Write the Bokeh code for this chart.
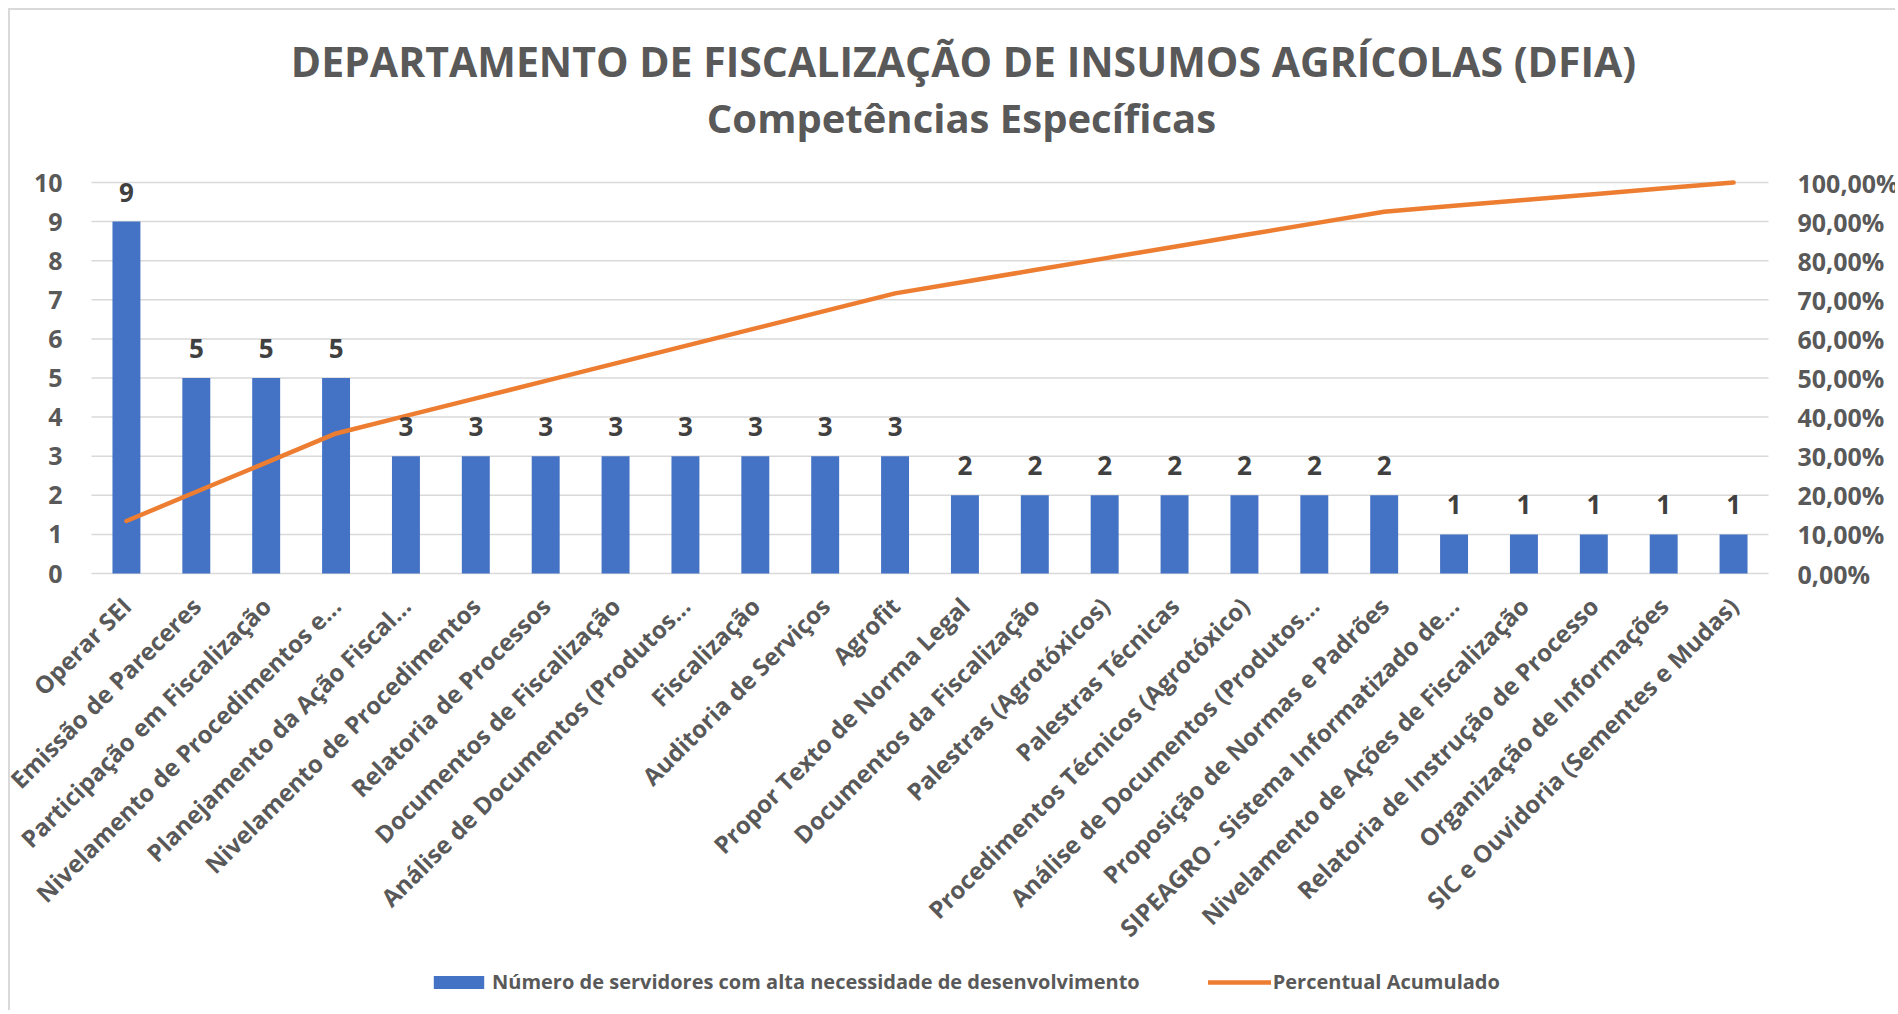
import math
from bokeh.plotting import figure
from bokeh.models import (ColumnDataSource, Range1d, LabelSet, Label, Legend, LegendItem)
from bokeh.core.properties import value
from bokeh.embed import file_html
from bokeh.resources import INLINE

# ---------------- data ----------------
categories = [
    "Operar SEI",
    "Emissão de Pareceres",
    "Participação em Fiscalização",
    "Nivelamento de Procedimentos e...",
    "Planejamento da Ação Fiscal...",
    "Nivelamento de Procedimentos",
    "Relatoria de Processos",
    "Documentos de Fiscalização",
    "Análise de Documentos (Produtos...",
    "Fiscalização",
    "Auditoria de Serviços",
    "Agrofit",
    "Propor Texto de Norma Legal",
    "Documentos da Fiscalização",
    "Palestras (Agrotóxicos)",
    "Palestras Técnicas",
    "Procedimentos Técnicos (Agrotóxico)",
    "Análise de Documentos (Produtos...",
    "Proposição de Normas e Padrões",
    "SIPEAGRO - Sistema Informatizado de...",
    "Nivelamento de Ações de Fiscalização",
    "Relatoria de Instrução de Processo",
    "Organização de Informações",
    "SIC e Ouvidoria (Sementes e Mudas)",
]
servidores = [9, 5, 5, 5, 3, 3, 3, 3, 3, 3, 3, 3, 2, 2, 2, 2, 2, 2, 2, 1, 1, 1, 1, 1]
percentual = [13.43, 20.90, 28.36, 35.82, 40.30, 44.78, 49.25, 53.73, 58.21, 62.69,
              67.16, 71.64, 74.63, 77.61, 80.60, 83.58, 86.57, 89.55, 92.54, 94.03,
              95.52, 97.01, 98.51, 100.00]
left_ticks = [0, 1, 2, 3, 4, 5, 6, 7, 8, 9, 10]
left_tick_labels = ["0", "1", "2", "3", "4", "5", "6", "7", "8", "9", "10"]
pct_ticks = [0, 10, 20, 30, 40, 50, 60, 70, 80, 90, 100]
pct_tick_labels = ["0,00%", "10,00%", "20,00%", "30,00%", "40,00%", "50,00%",
                   "60,00%", "70,00%", "80,00%", "90,00%", "100,00%"]
title_main = "DEPARTAMENTO DE FISCALIZAÇÃO DE INSUMOS AGRÍCOLAS (DFIA)"
title_sub = "Competências Específicas"
legend_bar = "Número de servidores com alta necessidade de desenvolvimento"
legend_line = "Percentual Acumulado"

# ---------------- style / layout ----------------
FONT = "Open Sans"
GRAY = "#595959"
DARK = "#404040"
GRID = "#d9d9d9"
BLUE = "#4472C4"
ORANGE = "#ED7D31"

W, H = 1887, 1002                 # canvas size
PL, PT, PW, PH = 81, 172, 1677, 391  # plot area (left, top, width, height) in px

n_cat = len(categories)
ymax, pmax = left_ticks[-1], pct_ticks[-1]
ppx = PW / n_cat                  # px per category
ppy = PH / ymax                   # px per unit (left scale)
x0 = -0.5 - PL / ppx
x1 = n_cat - 0.5 + (W - PL - PW) / ppx
y0 = -(H - PT - PH) / ppy
y1 = ymax + PT / ppy
k = pmax / ymax

pos = list(range(n_cat))
src = ColumnDataSource(dict(x=pos, n=servidores, pct=percentual,
                            lbl=[str(v) for v in servidores]))
cat_src = ColumnDataSource(dict(x=pos, y=[0] * n_cat, name=categories))
lt_src = ColumnDataSource(dict(x=[-0.5] * len(left_ticks), y=left_ticks, t=left_tick_labels))
rt_src = ColumnDataSource(dict(x=[n_cat - 0.5] * len(pct_ticks), y=pct_ticks, t=pct_tick_labels))
grid_src = ColumnDataSource(dict(xa=[-0.5] * len(left_ticks), xb=[n_cat - 0.5] * len(left_ticks),
                                 y=left_ticks))

p = figure(width=W, height=H, output_backend="svg", toolbar_location=None,
           x_range=Range1d(x0, x1), y_range=Range1d(y0, y1),
           min_border=0)
p.extra_y_ranges = {"pct": Range1d(y0 * k, y1 * k)}
p.axis.visible = False
p.grid.visible = False
p.outline_line_color = None
p.background_fill_color = "white"
p.border_fill_color = "white"
p.styles = {"margin-top": "8px", "margin-left": "8px",
            "border-top": "2px solid #d9d9d9", "border-left": "2px solid #d9d9d9"}

# gridlines
p.segment(x0="xa", x1="xb", y0="y", y1="y", source=grid_src, line_color=GRID, line_width=1.5)

bars = p.vbar(x="x", top="n", width=0.4, source=src, fill_color=BLUE, line_color=None)
line = p.line(x="x", y="pct", source=src, y_range_name="pct", line_color=ORANGE,
              line_width=4.5, line_join="round", line_cap="round")

# value labels above bars
p.add_layout(LabelSet(x="x", y="n", text="lbl", source=src, text_align="center",
                      text_baseline="alphabetic", y_offset=20, text_font=value(FONT),
                      text_font_style="bold", text_font_size="26px", text_color=DARK))

# rotated category labels under the axis
p.add_layout(LabelSet(x="x", y="y", text="name", source=cat_src, angle=math.pi / 4,
                      text_align="right", text_baseline="middle", y_offset=-28,
                      text_font=value(FONT), text_font_style="bold",
                      text_font_size="24px", text_color=GRAY))

# left and right tick labels
p.add_layout(LabelSet(x="x", y="y", text="t", source=lt_src, text_align="right",
                      text_baseline="middle", x_offset=-29, text_font=value(FONT),
                      text_font_style="bold", text_font_size="25px", text_color=GRAY))
p.add_layout(LabelSet(x="x", y="y", text="t", source=rt_src, y_range_name="pct",
                      text_align="left", text_baseline="middle", x_offset=29,
                      text_font=value(FONT), text_font_style="bold",
                      text_font_size="25px", text_color=GRAY))

legend = Legend(items=[LegendItem(label=legend_bar, renderers=[bars]),
                       LegendItem(label=legend_line, renderers=[line])],
                orientation="horizontal", location=(417, 17),
                glyph_width=63, glyph_height=16, label_standoff=2, spacing=68,
                label_text_font=FONT, label_text_font_style="bold",
                label_text_font_size="20px", label_text_color=GRAY,
                border_line_color=None, background_fill_alpha=0,
                padding=5, margin=0)
p.add_layout(legend, "center")

# two-line title (screen units, origin at bottom-left of canvas)
p.add_layout(Label(x=953, y=H - 50, x_units="screen", y_units="screen", text=title_main,
                   text_align="center", text_baseline="middle", text_font=FONT,
                   text_font_style="bold", text_font_size="41px", text_color=GRAY))
p.add_layout(Label(x=951, y=H - 107, x_units="screen", y_units="screen", text=title_sub,
                   text_align="center", text_baseline="middle", text_font=FONT,
                   text_font_style="bold", text_font_size="40px", text_color=GRAY))

open("out.html", "w").write(file_html(p, INLINE))
